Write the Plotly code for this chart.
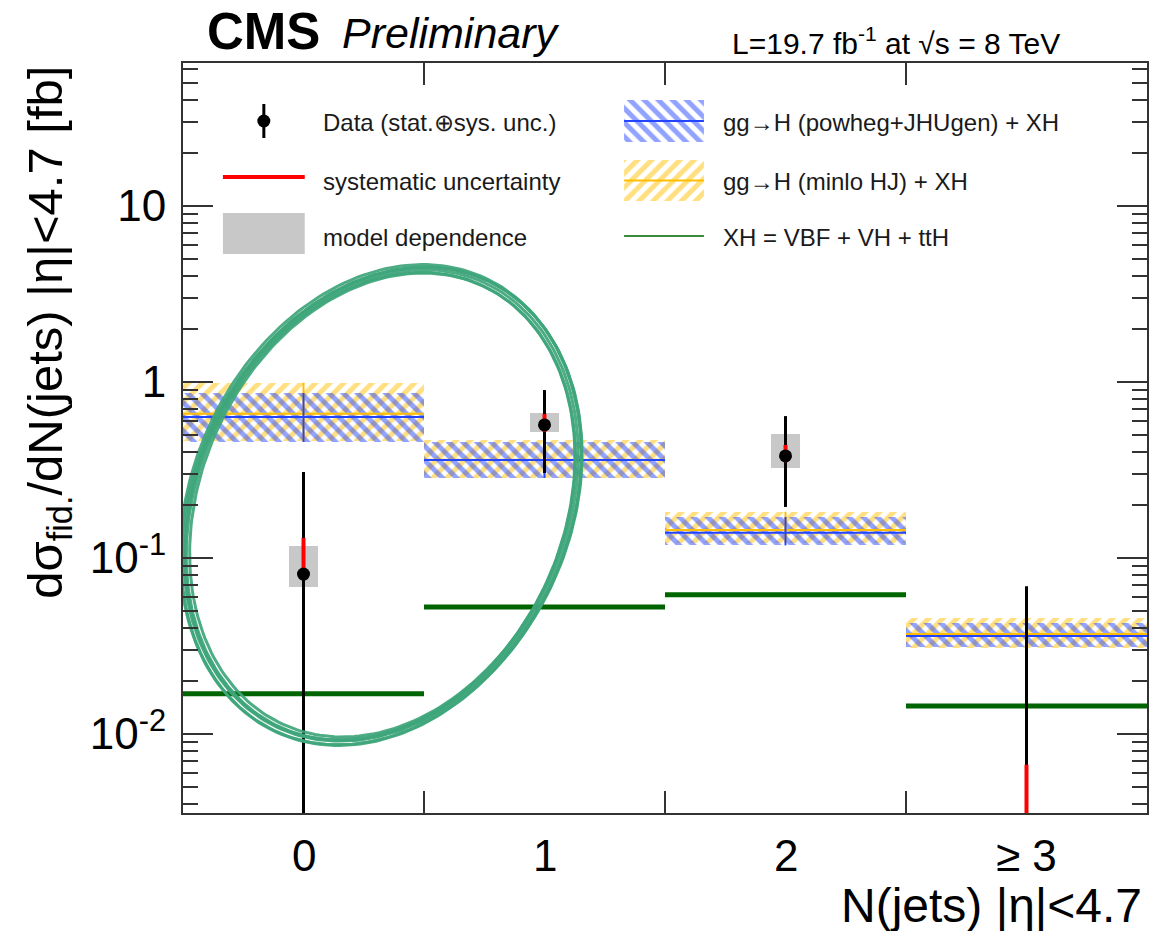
import numpy as np
import plotly.graph_objects as go

# ---- measured fiducial cross section vs. jet multiplicity ----
bins = [0, 1, 2, 3]
bin_labels = ["0", "1", "2", "≥ 3"]

data_val = [0.081, 0.57, 0.38, 0.0]        # central values [fb]
data_hi = [0.308, 0.90, 0.64, 0.069]       # upper edge, stat ⊕ sys
data_lo = [0.0, 0.304, 0.195, 0.0]         # lower edge, stat ⊕ sys
sys_hi = [0.130, 0.658, 0.439, 0.0067]     # systematic band upper edge
sys_lo = [0.076, 0.52, 0.35, 0.0]          # systematic band lower edge
model_hi = [0.117, 0.667, 0.506, None]     # model dependence upper edge
model_lo = [0.0685, 0.52, 0.325, None]     # model dependence lower edge

# ---- predictions ----
powheg_c = [0.633, 0.36, 0.139, 0.036]
powheg_hi = [0.866, 0.456, 0.171, 0.0427]
powheg_lo = [0.456, 0.285, 0.118, 0.0312]
minlo_c = [0.66, 0.362, 0.144, 0.037]
minlo_hi = [0.99, 0.468, 0.183, 0.0457]
minlo_lo = [0.46, 0.285, 0.122, 0.0307]
xh_val = [0.0169, 0.0527, 0.0619, 0.0144]  # VBF + VH + ttH

# ---- frame geometry (pixels) ----
W, H = 1151, 931
L, R, T, B = 183, 1149, 63, 813
YLOG = [-2.449, 1.8125]
FONT = "Liberation Sans, Arial, Helvetica, sans-serif"
y_floor = 10 ** (YLOG[0] - 0.2)


def px(x):
    return (x - L) / (R - L)


def py(y):
    return (B - y) / (B - T)


def floor(v):
    return v if (v is not None and v > 0) else y_floor


def hsegs(vals):
    xs, ys = [], []
    for c, v in zip(bins, vals):
        xs += [c - 0.5, c + 0.5, None]
        ys += [v, v, None]
    return xs, ys


def vsegs(los, his):
    xs, ys = [], []
    for c, lo, hi in zip(bins, los, his):
        xs += [c, c, None]
        ys += [floor(lo), floor(hi), None]
    return xs, ys


BLUE = "#2445ff"
YELLOW = "#ffbf00"
GREEN = "#006400"
GREY = "#c8c8c8"
HATCH = dict(size=10, solidity=0.5)

fig = go.Figure()


def band(lo, hi, c, shape, color):
    fig.add_trace(go.Bar(
        x=bins, y=[h - l for h, l in zip(hi, lo)], base=lo, width=1.0,
        marker=dict(color="rgba(0,0,0,0)", line_width=0,
                    pattern=dict(shape=shape, fgcolor=color, bgcolor="rgba(0,0,0,0)", **HATCH)),
        hoverinfo="skip", showlegend=False))
    xs, ys = hsegs(c)
    fig.add_trace(go.Scatter(x=xs, y=ys, mode="lines", line=dict(color=color, width=2),
                             hoverinfo="skip", showlegend=False))
    xs, ys = vsegs(lo, hi)
    fig.add_trace(go.Scatter(x=xs, y=ys, mode="lines", line=dict(color=color, width=2),
                             hoverinfo="skip", showlegend=False))


band(minlo_lo, minlo_hi, minlo_c, "/", YELLOW)
band(powheg_lo, powheg_hi, powheg_c, "\\", BLUE)

# XH contribution
xs, ys = hsegs(xh_val)
fig.add_trace(go.Scatter(x=xs, y=ys, mode="lines", line=dict(color=GREEN, width=5),
                         hoverinfo="skip", showlegend=False))

# model dependence boxes
mb = [b for b, h in zip(bins, model_hi) if h is not None]
mh = [h for h in model_hi if h is not None]
ml = [l for l in model_lo if l is not None]
fig.add_trace(go.Bar(x=mb, y=[h - l for h, l in zip(mh, ml)], base=ml, width=0.12,
                     marker=dict(color=GREY, line_width=0), hoverinfo="skip", showlegend=False))

# total uncertainty
xs, ys = vsegs(data_lo, data_hi)
fig.add_trace(go.Scatter(x=xs, y=ys, mode="lines", line=dict(color="black", width=3),
                         hoverinfo="skip", showlegend=False))
# systematic uncertainty
xs, ys = vsegs(sys_lo, sys_hi)
fig.add_trace(go.Scatter(x=xs, y=ys, mode="lines", line=dict(color="red", width=4),
                         hoverinfo="skip", showlegend=False))
# data points
pb = [b for b, v in zip(bins, data_val) if v > 0]
pv = [v for v in data_val if v > 0]
fig.add_trace(go.Scatter(x=pb, y=pv, mode="markers", marker=dict(color="black", size=13),
                         hoverinfo="skip", showlegend=False))

# ---- legend keys, drawn on a pixel-space overlay ----
ov = dict(xaxis="x2", yaxis="y2", hoverinfo="skip", showlegend=False)
fig.add_trace(go.Scatter(x=[264, 264], y=[104, 138], mode="lines",
                         line=dict(color="black", width=3), **ov))
fig.add_trace(go.Scatter(x=[264], y=[121], mode="markers",
                         marker=dict(color="black", size=13), **ov))
fig.add_trace(go.Scatter(x=[223, 305], y=[177, 177], mode="lines",
                         line=dict(color="red", width=4), **ov))
fig.add_trace(go.Scatter(x=[223, 305, 305, 223, 223], y=[213, 213, 254, 254, 213],
                         mode="lines", fill="toself", fillcolor=GREY,
                         line=dict(width=0, color=GREY), **ov))


def hatch_key(y0, y1, shape, color):
    fig.add_trace(go.Scatter(x=[625, 705, 705, 625, 625], y=[y0, y0, y1, y1, y0],
                             mode="lines", fill="toself", fillcolor="rgba(0,0,0,0)",
                             fillpattern=dict(shape=shape, fgcolor=color,
                                              bgcolor="rgba(0,0,0,0)", **HATCH),
                             line=dict(width=0, color="rgba(0,0,0,0)"), **ov))
    ym = (y0 + y1) / 2
    fig.add_trace(go.Scatter(x=[625, 705], y=[ym, ym], mode="lines",
                             line=dict(color=color, width=2), **ov))


hatch_key(100, 142, "\\", BLUE)
hatch_key(160, 201, "/", YELLOW)
fig.add_trace(go.Scatter(x=[625, 705], y=[236, 236], mode="lines",
                         line=dict(color="#3a8a3a", width=2), **ov))

# hand-drawn highlight ring around the low-multiplicity bins
t = np.linspace(0, 2 * np.pi, 241)
ring_strokes = [(0, 0, 0.0, 0, 0), (2, 2, 0.4, 1, -1), (-2, -2, -0.4, -1, 1),
                (4, 3, 0.7, 0, 1), (-4, -3, -0.6, 1, 0), (5, 4, -0.3, -1, 0)]
for da, db, dth, dx, dy in ring_strokes:
    a, b = 245 + da, 185 + db
    th = np.radians(25 + dth)
    cx, cy = 382 + dx, 505 + dy
    ex = cx + a * np.cos(t) * np.sin(th) + b * np.sin(t) * np.cos(th)
    ey = cy - a * np.cos(t) * np.cos(th) + b * np.sin(t) * np.sin(th)
    fig.add_trace(go.Scatter(x=ex, y=ey, mode="lines",
                             line=dict(color="#3fa67b", width=3), opacity=0.92, **ov))

ann = []
leg_font = dict(family=FONT, size=24, color="#1a1a1a")
for txt, x, y in [("Data (stat.⊕sys. unc.)", 321, 123),
                  ("systematic uncertainty", 321, 181),
                  ("model dependence", 321, 237),
                  ("gg→H (powheg+JHUgen) + XH", 722, 123),
                  ("gg→H (minlo HJ) + XH", 722, 181),
                  ("XH = VBF + VH + ttH", 722, 238)]:
    ann.append(dict(text=txt, x=px(x), y=py(y), xref="paper", yref="paper",
                    xanchor="left", yanchor="middle", showarrow=False, font=leg_font))

# x tick labels at bin centres
for c, lab in zip(bins, bin_labels):
    ann.append(dict(text=lab, x=c, y=py(855), xref="x", yref="paper", xanchor="center",
                    yanchor="middle", showarrow=False, font=dict(family=FONT, size=44, color="black")))

ann += [
    dict(text="<b>CMS</b>", x=px(205), y=py(31), xref="paper", yref="paper", xanchor="left",
         yanchor="middle", showarrow=False, font=dict(family=FONT, size=51, color="black")),
    dict(text="<i>Preliminary</i>", x=px(340), y=py(33), xref="paper", yref="paper",
         xanchor="left", yanchor="middle", showarrow=False,
         font=dict(family=FONT, size=43, color="black")),
    dict(text="L=19.7 fb<sup>-1</sup> at √s = 8 TeV", x=px(1064), y=py(41), xref="paper",
         yref="paper", xanchor="right", yanchor="middle", showarrow=False,
         font=dict(family=FONT, size=30, color="black")),
    dict(text="N(jets) |η|<4.7", x=px(1146), y=py(905), xref="paper", yref="paper",
         xanchor="right", yanchor="middle", showarrow=False,
         font=dict(family=FONT, size=48, color="black")),
    dict(text="dσ<sub>fid.</sub>/dN(jets) |η|<4.7 [fb]", x=px(48), y=py(64), xref="paper",
         yref="paper", xanchor="center", yanchor="top", textangle=-90, showarrow=False,
         font=dict(family=FONT, size=49, color="black")),
]

minor_vals = [k * 10.0 ** n for n in range(-3, 2) for k in range(2, 10)]

fig.update_layout(
    width=W, height=H,
    margin=dict(l=L, r=W - R, t=T, b=H - B),
    paper_bgcolor="white", plot_bgcolor="white",
    barmode="overlay", bargap=0,
    annotations=ann,
    xaxis=dict(range=[-0.5, 3.5], tickvals=[0.5, 1.5, 2.5], showticklabels=False,
               ticks="inside", ticklen=22, tickwidth=2, tickcolor="#333",
               showline=True, linecolor="#333", linewidth=2, mirror="ticks",
               showgrid=False, zeroline=False, fixedrange=True),
    yaxis=dict(type="log", range=YLOG, tickvals=[0.01, 0.1, 1, 10],
               ticktext=["10<sup>-2</sup>", "10<sup>-1</sup>", "1", "10"],
               tickfont=dict(family=FONT, size=44, color="black"),
               ticks="inside", ticklen=30, tickwidth=2, tickcolor="#333",
               minor=dict(tickmode="array", tickvals=minor_vals, ticks="inside",
                          ticklen=15, tickwidth=2, tickcolor="#333", showgrid=False),
               showline=True, linecolor="#333", linewidth=2, mirror="ticks",
               showgrid=False, zeroline=False, ticklabelstandoff=6, fixedrange=True),
    xaxis2=dict(overlaying="x", range=[L, R], visible=False, fixedrange=True),
    yaxis2=dict(overlaying="y", range=[B, T], visible=False, fixedrange=True),
)

fig.write_html("out.html")
